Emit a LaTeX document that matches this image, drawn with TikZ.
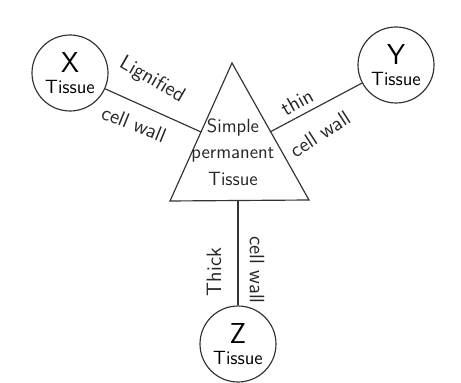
\documentclass[tikz,border=0pt]{standalone}
\usepackage{tikz}

\begin{document}
\begin{tikzpicture}[x=0.6pt,y=-0.6pt,line width=0.7pt,draw=black!80,
  tissue/.style={draw,circle,minimum size=45.6pt,inner sep=0pt,align=center,font=\sffamily\fontsize{11.5}{13}\selectfont},
  walltext/.style={font=\sffamily\fontsize{12.5}{14}\selectfont,inner sep=0pt,text=black!85}]
  \useasboundingbox (0,0) rectangle (461,383);
  % triangle: simple permanent tissue
  \coordinate (apex) at (232,63);
  \coordinate (bl) at (170,201);
  \coordinate (br) at (309,200);
  \draw (apex)--(bl)--(br)--cycle;
  \coordinate (tl) at (201,132);
  \coordinate (tr) at (270,132);
  \coordinate (tb) at (238,200.5);
  \node[walltext,align=center,font=\sffamily\fontsize{11.5}{16}\selectfont] (simple) at (233,152) {Simple\\permanent\\Tissue};
  % the three tissues
  \node[tissue] (X) at (70,73) {{\LARGE X}\\Tissue};
  \node[tissue] (Y) at (396,65) {{\LARGE Y}\\Tissue};
  \node[tissue] (Z) at (238,344) {{\LARGE Z}\\Tissue};
  \draw (X)--(tl);
  \draw (Y)--(tr);
  \draw (Z)--(tb);
  % cell wall labels
  \node[walltext,rotate=-30] (lig) at (152,80) {Lignified};
  \node[walltext,rotate=-22] (cwx) at (134,124) {cell wall};
  \node[walltext,rotate=29] (thin) at (297,102) {thin};
  \node[walltext,rotate=33] (cwy) at (320,134) {cell wall};
  \node[walltext,rotate=90] (thick) at (214,272) {Thick};
  \node[walltext,rotate=-90] (cwz) at (257,270) {cell wall};
\end{tikzpicture}
\end{document}
